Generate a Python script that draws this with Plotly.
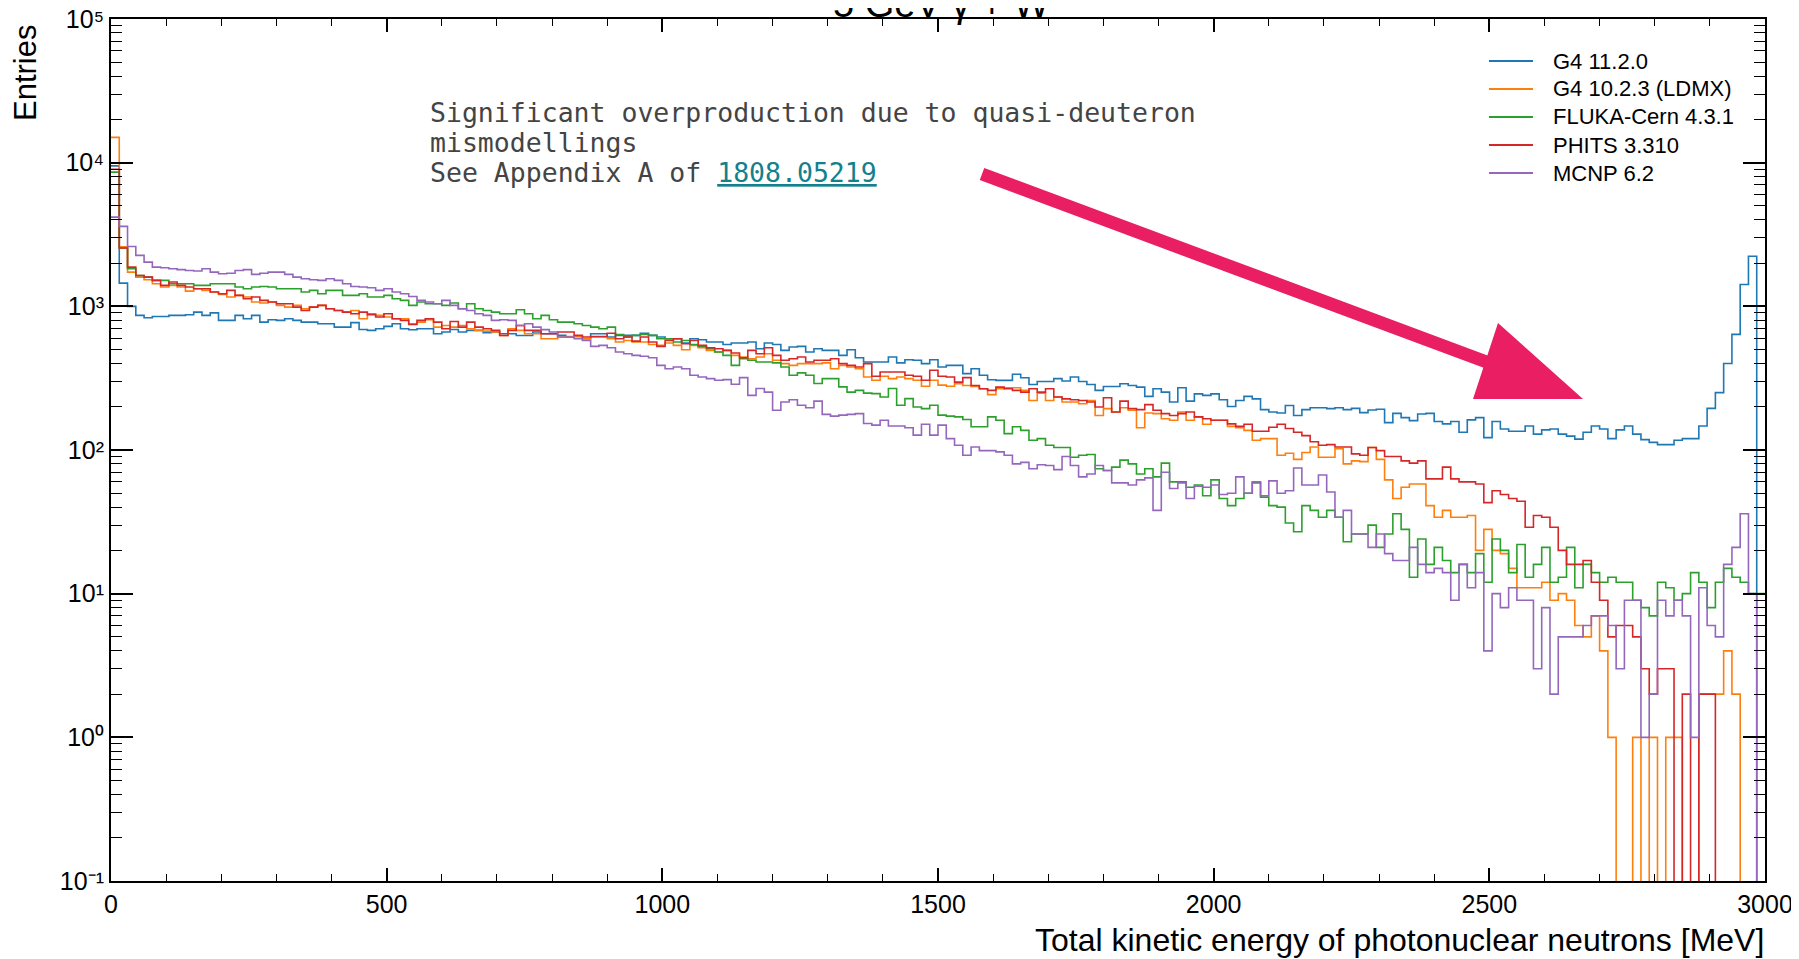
import plotly.graph_objects as go

# ---------------- data (15 MeV bins, 0-3000 MeV) ----------------
BIN_WIDTH = 15
N_BINS = 200

series_names = ["G4 11.2.0", "G4 10.2.3 (LDMX)", "FLUKA-Cern 4.3.1", "PHITS 3.310", "MCNP 6.2"]
series_colors = ["#1f77b4", "#ff7f0e", "#2ca02c", "#d62728", "#9467bd"]

g4_11 = [
    9500, 1450, 1000, 865, 833, 850, 850, 865, 865, 873, 911, 865, 900, 798, 798, 865, 820, 865, 777, 806,
    798, 820, 798, 777, 777, 756, 756, 717, 717, 770, 690, 680, 698, 725, 756, 698, 687, 698, 698, 644,
    662, 690, 662, 680, 680, 655, 662, 644, 644, 627, 627, 662, 644, 644, 628, 611, 617, 595, 644, 644,
    611, 628, 628, 628, 650, 628, 611, 595, 595, 555, 595, 585, 564, 564, 543, 555, 555, 564, 507, 555,
    543, 494, 521, 526, 481, 507, 494, 494, 456, 499, 439, 410, 410, 410, 444, 404, 425, 421, 399, 425,
    378, 388, 388, 340, 368, 331, 308, 305, 305, 337, 318, 286, 300, 300, 314, 302, 322, 300, 286, 260,
    277, 277, 289, 281, 274, 236, 267, 253, 216, 271, 219, 246, 240, 246, 224, 201, 221, 236, 227, 191,
    184, 181, 204, 174, 191, 197, 197, 194, 197, 191, 195, 182, 190, 192, 155, 180, 168, 160, 178, 180,
    158, 152, 158, 133, 162, 168, 122, 158, 140, 135, 135, 147, 129, 138, 140, 129, 125, 119, 133, 147,
    140, 120, 138, 147, 129, 118, 113, 109, 109, 117, 120, 120, 147, 195, 251, 400, 638, 1419, 2233, 0,
]

g4_10 = [
    15000, 2600, 1730, 1598, 1530, 1437, 1362, 1399, 1362, 1277, 1326, 1291, 1257, 1211, 1160, 1192, 1160, 1071, 1054, 1071,
    1015, 988, 1015, 962, 988, 1015, 962, 936, 911, 936, 820, 888, 865, 842, 820, 820, 756, 777, 806, 717,
    736, 717, 736, 698, 680, 672, 662, 627, 698, 680, 644, 644, 595, 595, 611, 617, 617, 595, 611, 611,
    595, 564, 579, 564, 564, 543, 535, 555, 535, 499, 535, 515, 494, 481, 494, 456, 444, 432, 444, 468,
    421, 399, 388, 399, 399, 399, 404, 368, 388, 378, 368, 322, 306, 326, 314, 322, 314, 306, 278, 306,
    283, 278, 289, 281, 277, 267, 243, 267, 271, 271, 260, 221, 249, 221, 234, 216, 216, 210, 221, 174,
    194, 184, 197, 189, 143, 181, 179, 165, 161, 184, 161, 170, 151, 161, 161, 146, 143, 137, 117, 120,
    120, 92, 95, 86, 96, 105, 89, 89, 102, 80, 84, 83, 104, 86, 62, 46, 55, 58, 58, 41,
    34, 38, 34, 34, 35, 20, 28, 20, 19, 15, 11, 11, 11, 12, 9, 10, 9, 6, 5, 7,
    4, 1, 0, 0, 1, 0, 1, 0, 1, 1, 0, 0, 2, 2, 2, 4, 2, 0, 0, 0,
]

fluka = [
    8600, 2550, 1826, 1640, 1598, 1515, 1515, 1437, 1437, 1437, 1399, 1399, 1437, 1437, 1437, 1362, 1326, 1362, 1375, 1362,
    1326, 1326, 1326, 1257, 1291, 1224, 1291, 1291, 1192, 1192, 1224, 1160, 1160, 1192, 1130, 1100, 1015, 1071, 1043, 1043,
    1015, 1054, 962, 1043, 962, 936, 911, 888, 888, 946, 888, 820, 865, 806, 777, 777, 756, 736, 717, 698,
    717, 637, 611, 628, 637, 628, 595, 595, 564, 579, 543, 526, 507, 481, 456, 388, 432, 421, 410, 410,
    404, 378, 331, 344, 331, 290, 314, 314, 275, 253, 260, 249, 247, 234, 268, 205, 228, 199, 194, 205,
    175, 172, 170, 163, 145, 145, 170, 161, 130, 145, 137, 117, 120, 108, 104, 104, 89, 92, 93, 74,
    72, 76, 85, 80, 68, 74, 65, 81, 60, 60, 55, 57, 48, 62, 46, 41, 46, 50, 59, 47,
    41, 40, 31, 27, 41, 38, 34, 38, 34, 23, 26, 26, 30, 21, 26, 36, 28, 13, 24, 16,
    21, 17, 14, 16, 14, 19, 12, 24, 20, 14, 22, 13, 16, 21, 12, 13, 21, 11, 16, 14,
    12, 13, 12, 12, 9, 8, 7, 12, 11, 9, 10, 14, 12, 8, 12, 15, 13, 12, 10, 10,
]

phits = [
    9000, 2550, 1875, 1640, 1598, 1515, 1399, 1476, 1399, 1362, 1326, 1326, 1257, 1224, 1291, 1192, 1130, 1160, 1100, 1071,
    1043, 1043, 988, 936, 988, 1015, 962, 936, 911, 888, 911, 875, 842, 888, 820, 798, 748, 798, 820, 777,
    698, 785, 717, 777, 717, 698, 680, 627, 680, 736, 680, 680, 644, 644, 662, 662, 628, 611, 617, 617,
    650, 595, 611, 573, 611, 564, 526, 579, 595, 549, 579, 535, 515, 507, 494, 473, 439, 494, 468, 515,
    456, 421, 432, 444, 410, 421, 421, 432, 399, 388, 378, 399, 326, 349, 349, 349, 331, 326, 306, 359,
    326, 322, 297, 319, 281, 267, 260, 274, 267, 260, 253, 267, 253, 267, 234, 227, 224, 221, 216, 199,
    231, 184, 219, 194, 191, 207, 189, 179, 174, 179, 184, 170, 165, 161, 161, 152, 146, 151, 135, 135,
    144, 151, 141, 133, 126, 114, 108, 109, 105, 105, 94, 92, 104, 99, 90, 90, 84, 81, 84, 63,
    63, 76, 63, 60, 60, 58, 43, 52, 49, 46, 44, 29, 35, 34, 29, 20, 16, 16, 17, 12,
    9, 5, 6, 6, 5, 3, 2, 3, 3, 0, 2, 0, 2, 2, 0, 0, 0, 0, 0, 0,
]

mcnp = [
    4180, 3600, 2610, 2262, 2032, 1875, 1855, 1826, 1800, 1777, 1760, 1826, 1730, 1685, 1700, 1777, 1800, 1670, 1700, 1730,
    1730, 1670, 1598, 1556, 1530, 1515, 1556, 1515, 1437, 1375, 1362, 1348, 1291, 1326, 1257, 1224, 1172, 1100, 1071, 1043,
    1100, 1015, 962, 936, 888, 865, 798, 806, 798, 736, 756, 717, 688, 662, 611, 611, 595, 579, 526, 535,
    515, 481, 468, 456, 449, 439, 388, 368, 378, 368, 331, 322, 314, 306, 309, 287, 319, 240, 268, 253,
    189, 216, 224, 205, 197, 219, 177, 172, 175, 177, 179, 153, 149, 161, 147, 147, 143, 127, 151, 127,
    149, 120, 108, 92, 105, 99, 99, 97, 92, 80, 82, 74, 79, 78, 73, 90, 78, 65, 68, 78,
    72, 59, 59, 57, 62, 64, 38, 70, 54, 59, 46, 56, 55, 57, 49, 50, 65, 50, 60, 48,
    61, 50, 52, 75, 57, 57, 67, 51, 34, 38, 26, 26, 21, 26, 19, 17, 17, 21, 16, 14,
    15, 14, 9, 16, 11, 14, 4, 10, 8, 11, 9, 9, 3, 8, 2, 5, 5, 5, 6, 7,
    7, 6, 3, 9, 9, 1, 2, 9, 7, 9, 7, 1, 11, 6, 5, 16, 21, 36, 10, 0,
]

series_values = [g4_11, g4_10, fluka, phits, mcnp]

x_tick_vals = [0, 500, 1000, 1500, 2000, 2500, 3000]
x_tick_text = ["0", "500", "1000", "1500", "2000", "2500", "3000"]
y_tick_vals = [0.1, 1, 10, 100, 1000, 10000, 100000]
y_tick_text = ["10\u207b\u00b9", "10\u2070", "10\u00b9", "10\u00b2", "10\u00b3", "10\u2074", "10\u2075"]

title_text = "5 GeV \u03b3 + W"
x_title = "Total kinetic energy of photonuclear neutrons [MeV]"
y_title = "Entries"
note_lines = [
    "Significant overproduction due to quasi-deuteron",
    "mismodellings",
    "See Appendix A of ",
]
note_link = "1808.05219"

# ---------------- layout geometry (page pixels) ----------------
W, H = 1799, 959
OFF = 8                      # default body margin of the html page
PL, PR, PT, PB = 111, 1765, 19, 881   # plot frame on the page


def px(x):
    return (x - PL) / (PR - PL)


def py(y):
    return (PB - y) / (PB - PT)


FONT = "Liberation Sans, Arial, Helvetica, sans-serif"
MONO = "DejaVu Sans Mono, Liberation Mono, monospace"

fig = go.Figure()

edges = [i * BIN_WIDTH for i in range(N_BINS + 1)]
for name, color, vals in zip(series_names, series_colors, series_values):
    yv = [v if v > 0 else 1e-4 for v in vals]  # empty bins fall below the axis
    fig.add_trace(go.Scatter(
        x=edges, y=yv + [yv[-1]],
        mode="lines", line=dict(color=color, width=1.6, shape="hv"),
        name=name, showlegend=False,
    ))

axis_common = dict(
    showline=True, linecolor="black", linewidth=2, mirror="ticks",
    ticks="inside", tickcolor="black", showgrid=False, zeroline=False,
    automargin=False, ticklabeloverflow="allow",
    tickfont=dict(family=FONT, size=25, color="black"),
)

fig.update_layout(
    width=W, height=H,
    margin=dict(l=PL - OFF, r=W - (PR - OFF), t=PT - OFF, b=H - (PB - OFF), pad=0),
    paper_bgcolor="white", plot_bgcolor="white",
    showlegend=False,
    xaxis=dict(
        range=[0, 3000], tickvals=x_tick_vals, ticktext=x_tick_text,
        ticklen=13, tickwidth=1.5,
        minor=dict(dtick=100, ticks="inside", ticklen=7, tickcolor="black", tickwidth=1.2),
        **axis_common,
    ),
    yaxis=dict(
        type="log", range=[-1, 5], tickvals=y_tick_vals, ticktext=y_tick_text,
        ticklen=22, tickwidth=1.5,
        minor=dict(dtick="D1", ticks="inside", ticklen=11, tickcolor="black", tickwidth=1.2),
        **axis_common,
    ),
)

annotations = [
    dict(text=title_text, x=px(941), y=py(27), xref="paper", yref="paper",
         xanchor="center", yanchor="bottom", showarrow=False,
         font=dict(family=FONT, size=38, color="black")),
    dict(text=y_title, x=px(25), y=py(23), xref="paper", yref="paper",
         xanchor="center", yanchor="top", textangle=-90, showarrow=False,
         font=dict(family=FONT, size=31, color="black")),
    dict(text=x_title, x=px(1766), y=py(940), xref="paper", yref="paper",
         xanchor="right", yanchor="middle", showarrow=False,
         font=dict(family=FONT, size=32, color="black")),
]

baselines = [121.7, 151.7, 181.7]
for i, line in enumerate(note_lines):
    txt = line
    if i == 2:
        txt = (line + '<a href="https://arxiv.org/abs/1808.05219">'
               '<span style="color:#13808c"><u>' + note_link + '</u></span></a>')
    annotations.append(dict(
        text=txt, x=px(428), y=py(baselines[i] - 9), xref="paper", yref="paper",
        xanchor="left", yanchor="middle", showarrow=False, align="left",
        font=dict(family=MONO, size=26.5, color="#444444"),
    ))

# ---------------- legend (ROOT style, drawn by hand) ----------------
LEG_LINE_X0, LEG_LINE_X1, LEG_TEXT_X = 1489, 1533, 1551
LEG_Y0, LEG_DY = 61, 28
for i, (name, color) in enumerate(zip(series_names, series_colors)):
    yc = LEG_Y0 + i * LEG_DY
    fig.add_shape(type="line", xref="paper", yref="paper",
                  x0=px(LEG_LINE_X0), x1=px(LEG_LINE_X1), y0=py(yc), y1=py(yc),
                  line=dict(color=color, width=1.8))
    annotations.append(dict(
        text=name, x=px(LEG_TEXT_X), y=py(yc), xref="paper", yref="paper",
        xanchor="left", yanchor="middle", showarrow=False,
        font=dict(family=FONT, size=22, color="black"),
    ))

fig.update_layout(annotations=annotations)

# ---------------- pink arrow ----------------
ARROW = "#e91e63"
fig.add_shape(type="line", xref="paper", yref="paper",
              x0=px(982), y0=py(174), x1=px(1492), y1=py(364),
              line=dict(color=ARROW, width=13))
head = [(1498, 323), (1473, 399), (1583, 399)]
path = "M {} {} L {} {} L {} {} Z".format(
    px(head[0][0]), py(head[0][1]), px(head[1][0]), py(head[1][1]), px(head[2][0]), py(head[2][1]))
fig.add_shape(type="path", xref="paper", yref="paper", path=path,
              fillcolor=ARROW, line=dict(color=ARROW, width=0))

fig.write_html("out.html")
